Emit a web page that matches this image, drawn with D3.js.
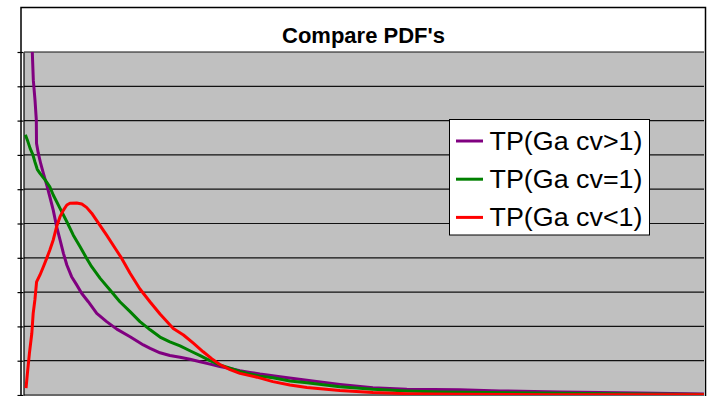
<!DOCTYPE html>
<html>
<head>
<meta charset="utf-8">
<script src="https://cdn.jsdelivr.net/npm/d3@7"></script>
<style>
  html, body { margin: 0; padding: 0; background: #fff; }
  svg { display: block; }
</style>
</head>
<body>
<svg id="chart" width="708" height="396"></svg>
<script>
// Series names shown in the legend
const seriesNames = ["TP(Ga cv>1)", "TP(Ga cv=1)", "TP(Ga cv<1)"];
const seriesColors = ["#800080", "#008000", "#FF0000"];

// Gamma, cv > 1
const xCvHigh = [0.235, 0.244, 0.274, 0.324, 0.362, 0.368, 0.42, 0.49, 0.57, 0.67, 0.76, 0.86, 0.96, 1.06, 1.16, 1.26, 1.40, 1.55, 1.70, 1.89, 2.14, 2.43, 2.73, 3.12, 3.51, 3.71, 4.00, 4.29, 4.59, 4.88, 5.18, 5.47, 5.76, 6.06, 6.35, 6.65, 6.94, 7.53, 8.32, 9.29, 10.26, 11.26, 12.82, 14.0, 15.76, 18.1, 20];
const yCvHigh = [1.035, 1.0, 0.918, 0.860, 0.802, 0.734, 0.705, 0.675, 0.646, 0.612, 0.578, 0.539, 0.491, 0.452, 0.413, 0.379, 0.345, 0.321, 0.296, 0.272, 0.238, 0.214, 0.192, 0.170, 0.146, 0.136, 0.123, 0.115, 0.110, 0.104, 0.097, 0.090, 0.083, 0.077, 0.071, 0.066, 0.061, 0.053, 0.043, 0.031, 0.021, 0.017, 0.015, 0.012, 0.009, 0.006, 0.003];

// Gamma, cv = 1
const xCvOne = [0.04, 0.10, 0.18, 0.26, 0.32, 0.39, 0.47, 0.62, 0.76, 0.86, 1.06, 1.26, 1.45, 1.65, 1.84, 1.99, 2.24, 2.53, 2.82, 3.12, 3.41, 3.71, 4.00, 4.29, 4.59, 4.88, 5.18, 5.47, 5.76, 6.06, 6.35, 6.65, 6.94, 7.32, 7.82, 8.32, 9.29, 10.26, 11.26, 12.24, 13.7, 15.76, 18.1, 20];
const yCvOne = [0.759, 0.743, 0.719, 0.701, 0.680, 0.658, 0.646, 0.627, 0.607, 0.583, 0.544, 0.505, 0.466, 0.432, 0.399, 0.374, 0.340, 0.306, 0.272, 0.243, 0.214, 0.190, 0.169, 0.155, 0.143, 0.129, 0.115, 0.100, 0.088, 0.078, 0.069, 0.061, 0.055, 0.050, 0.041, 0.036, 0.024, 0.017, 0.012, 0.009, 0.007, 0.005, 0.003, 0.0015];

// Gamma, cv < 1
const xCvLow = [0.06, 0.10, 0.16, 0.23, 0.27, 0.32, 0.37, 0.47, 0.57, 0.67, 0.76, 0.86, 0.96, 1.06, 1.16, 1.26, 1.35, 1.55, 1.70, 1.84, 1.99, 2.19, 2.43, 2.68, 2.87, 3.12, 3.41, 3.71, 4.00, 4.39, 4.69, 4.98, 5.27, 5.52, 5.76, 6.06, 6.35, 6.85, 7.32, 7.82, 8.32, 9.29, 10.26, 11.26, 12.8, 15.5, 20];
const yCvLow = [0.020, 0.063, 0.122, 0.180, 0.238, 0.277, 0.330, 0.350, 0.374, 0.399, 0.423, 0.452, 0.491, 0.520, 0.539, 0.554, 0.559, 0.560, 0.557, 0.547, 0.530, 0.501, 0.466, 0.428, 0.399, 0.355, 0.309, 0.271, 0.236, 0.194, 0.175, 0.151, 0.126, 0.106, 0.089, 0.074, 0.063, 0.052, 0.039, 0.029, 0.022, 0.013, 0.007, 0.004, 0.002, 0.001, 0.0005];

const xDomain = [0, 20];
const yDomain = [0, 1];
const yTickStep = 0.1;

const seriesX = [xCvHigh, xCvOne, xCvLow];
const seriesY = [yCvHigh, yCvOne, yCvLow];

const svg = d3.select("#chart");
const plot = { left: 24, right: 704, top: 52, bottom: 395 };

const x = d3.scaleLinear().domain(xDomain).range([plot.left, plot.right]);
const y = d3.scaleLinear().domain(yDomain).range([plot.bottom, plot.top]);

// Chart frame
svg.append("rect")
  .attr("x", 21).attr("y", 7.5)
  .attr("width", 684.5).attr("height", 420)
  .attr("fill", "#fff").attr("stroke", "#000").attr("stroke-width", 1.5);

// Title
svg.append("text")
  .attr("x", 363.5).attr("y", 42.7)
  .attr("text-anchor", "middle")
  .attr("font-family", "Liberation Sans, Arial, sans-serif")
  .attr("font-weight", "bold")
  .attr("font-size", 22)
  .attr("fill", "#000")
  .text("Compare PDF's");

// Plot area
svg.append("rect")
  .attr("x", plot.left).attr("y", plot.top)
  .attr("width", plot.right - plot.left + 1).attr("height", plot.bottom - plot.top + 10)
  .attr("fill", "#C0C0C0");

const yTicks = d3.range(yDomain[0], yDomain[1] + yTickStep / 2, yTickStep);

// Horizontal gridlines
svg.append("g")
  .selectAll("line")
  .data(yTicks)
  .join("line")
  .attr("x1", plot.left).attr("x2", plot.right)
  .attr("y1", d => y(d)).attr("y2", d => y(d))
  .attr("stroke", "#111").attr("stroke-width", 1.2);

// Value axis (ticks only, no labels)
const yAxis = d3.axisLeft(y).tickValues(yTicks).tickSize(6).tickSizeOuter(0).tickFormat("");
svg.append("g")
  .attr("transform", `translate(${plot.left - 0.5},0)`)
  .call(yAxis)
  .call(g => g.selectAll("line").attr("stroke", "#000").attr("stroke-width", 1.2))
  .call(g => g.select(".domain").attr("stroke", "#000").attr("stroke-width", 1.2));

// Clip curves to plot area
svg.append("clipPath").attr("id", "plot-clip")
  .append("rect")
  .attr("x", plot.left).attr("y", plot.top)
  .attr("width", plot.right - plot.left).attr("height", plot.bottom - plot.top);

const line = d3.line()
  .x(d => x(d[0]))
  .y(d => y(d[1]));

const curves = svg.append("g").attr("clip-path", "url(#plot-clip)");
seriesNames.forEach((name, i) => {
  const pts = seriesX[i].map((v, j) => [v, seriesY[i][j]]);
  curves.append("path")
    .datum(pts)
    .attr("d", line)
    .attr("fill", "none")
    .attr("stroke", seriesColors[i])
    .attr("stroke-width", 3)
    .attr("stroke-linejoin", "round");
});

// Legend
const legend = svg.append("g");
legend.append("rect")
  .attr("x", 449.5).attr("y", 119.5)
  .attr("width", 200).attr("height", 115.5)
  .attr("fill", "#fff").attr("stroke", "#000").attr("stroke-width", 1);

seriesNames.forEach((name, i) => {
  const cy = 141 + i * 38.2;
  legend.append("line")
    .attr("x1", 456).attr("x2", 483)
    .attr("y1", cy).attr("y2", cy)
    .attr("stroke", seriesColors[i]).attr("stroke-width", 3);
  legend.append("text")
    .attr("x", 489.5).attr("y", cy + 9)
    .attr("font-family", "Liberation Sans, Arial, sans-serif")
    .attr("font-size", 26)
    .attr("textLength", 153)
    .attr("lengthAdjust", "spacingAndGlyphs")
    .attr("fill", "#000")
    .text(name);
});
</script>
</body>
</html>
